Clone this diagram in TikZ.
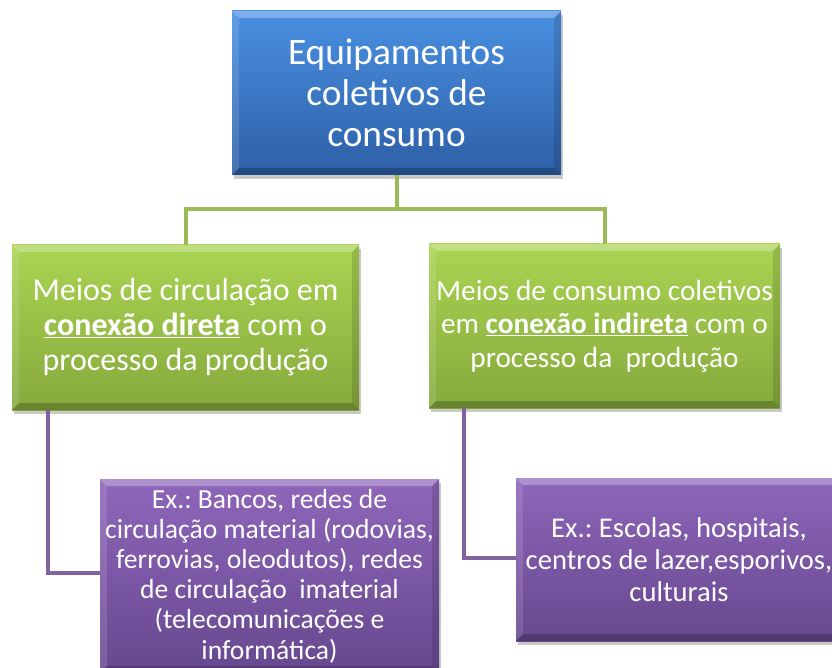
\documentclass[tikz,border=0pt]{standalone}
\usepackage{fontspec}
\setmainfont{Carlito}
\frenchspacing
\usetikzlibrary{shadows}
\definecolor{bluetop}{HTML}{4A90E2}
\definecolor{bluebot}{HTML}{2D5FA6}
\definecolor{greentop}{HTML}{AAD452}
\definecolor{greenbot}{HTML}{86A93C}
\definecolor{purtop}{HTML}{8E66BA}
\definecolor{purbot}{HTML}{67488F}
\definecolor{gline}{HTML}{9BBB59}
\definecolor{pline}{HTML}{8064A2}
\tikzset{
  bevel/.style={path picture={
    \fill[white,opacity=.28] (path picture bounding box.north west) -- (path picture bounding box.north east)
      -- ([xshift=-7pt,yshift=-7pt]path picture bounding box.north east) -- ([xshift=7pt,yshift=-7pt]path picture bounding box.north west) -- cycle;
    \fill[white,opacity=.12] (path picture bounding box.north west) -- ([xshift=7pt,yshift=-7pt]path picture bounding box.north west)
      -- ([xshift=7pt,yshift=7pt]path picture bounding box.south west) -- (path picture bounding box.south west) -- cycle;
    \fill[black,opacity=.12] (path picture bounding box.north east) -- ([xshift=-7pt,yshift=-7pt]path picture bounding box.north east)
      -- ([xshift=-7pt,yshift=7pt]path picture bounding box.south east) -- (path picture bounding box.south east) -- cycle;
    \fill[black,opacity=.22] (path picture bounding box.south west) -- (path picture bounding box.south east)
      -- ([xshift=-7pt,yshift=7pt]path picture bounding box.south east) -- ([xshift=7pt,yshift=7pt]path picture bounding box.south west) -- cycle;
  }},
  box/.style={rectangle, inner sep=0pt, align=center, text=white, bevel,
    drop shadow={shadow xshift=2pt, shadow yshift=-4pt, opacity=.35, fill=black!60}},
  bluebox/.style={box, top color=bluetop, bottom color=bluebot},
  greenbox/.style={box, top color=greentop, bottom color=greenbot},
  purbox/.style={box, top color=purtop, bottom color=purbot},
  gconn/.style={draw=gline, line width=4pt},
  pconn/.style={draw=pline, line width=4pt},
}
\begin{document}
\begin{tikzpicture}[x=1pt,y=-1pt]
\clip (0,0) rectangle (832,668);
\fill[white] (0,0) rectangle (832,668);

\node[bluebox, minimum width=329pt, minimum height=164pt,
  font=\fontsize{37.3}{41}\selectfont] (top) at (396.5,93)
  {Equipamentos\\coletivos de\\consumo};

\node[greenbox, minimum width=347pt, minimum height=165pt,
  font=\fontsize{32}{35}\selectfont] (lg) at (185.5,327.5)
  {Meios de circulação em\\\underline{\textbf{conexão direta}} com o\\processo da produção};

\node[greenbox, minimum width=351pt, minimum height=164pt,
  font=\fontsize{29.3}{33.5}\selectfont] (rg) at (604.5,326)
  {Meios de consumo coletivos\\em \underline{\textbf{conexão indireta}} com o\\processo da\ \ produção};

\node[purbox, minimum width=339pt, minimum height=194pt,
  font=\fontsize{27.6}{30.2}\selectfont] (lp) at (269.5,576)
  {Ex.: Bancos, redes de\\circulação material (rodovias,\\ferrovias, oleodutos), redes\\de circulação\ \ imaterial\\(telecomunicações e\\informática)};

\node[purbox, minimum width=326pt, minimum height=163pt,
  font=\fontsize{28.6}{32}\selectfont] (rp) at (679,559.5)
  {Ex.: Escolas, hospitais,\\centros de lazer,esporivos,\\culturais};

\coordinate (branch) at ([yshift=-34pt]top.south);
\draw[gconn] (top.south) -- (branch);
\draw[gconn] (branch) -| (lg.north);
\draw[gconn] (branch) -| (rg.north);

\draw[pconn] ([xshift=36pt]lg.south west) |- ([yshift=3pt]lp.west);
\draw[pconn] ([xshift=35pt]rg.south west) |- ([yshift=2pt]rp.west);
\end{tikzpicture}
\end{document}
